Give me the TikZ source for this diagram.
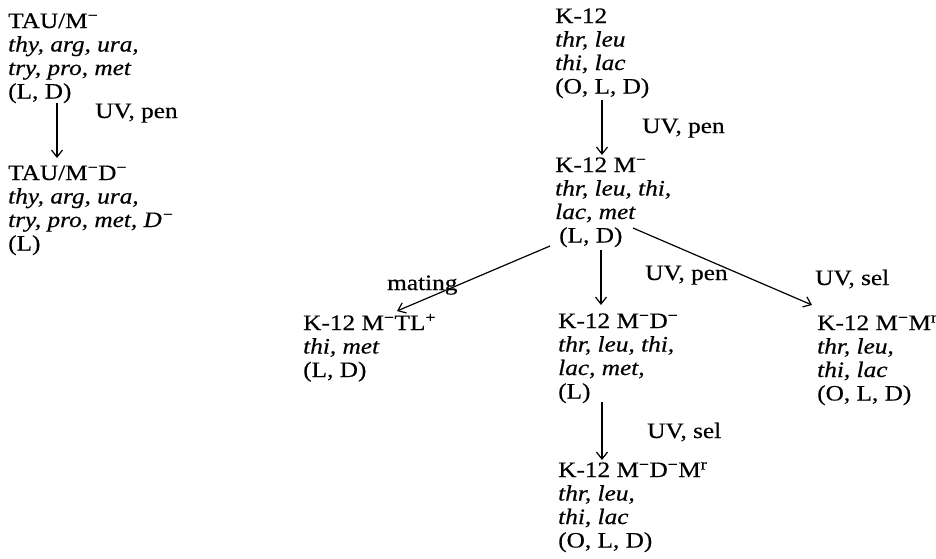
\documentclass[tikz,border=0pt]{standalone}
\usepackage{fontspec}
\setmainfont{Liberation Serif}[FakeStretch=1.15,FakeBold=0.4]
\usetikzlibrary{arrows.meta,calc}
\newcommand\gi[1]{{\itshape #1}}
\newcommand\sm{\textsuperscript{−}}
\newcommand\spl{\textsuperscript{+}}
\newcommand\sr{\textsuperscript{r}}
\newcommand\stack[1]{\vtop{\baselineskip=23.5pt\lineskiplimit=-30pt\lineskip=0pt\halign{##\hfil\cr#1\crcr}}}
\begin{document}
\begin{tikzpicture}[x=1pt,y=-1pt,
  strain/.style={anchor=base west, inner sep=0pt, font=\fontsize{22}{23.5}\selectfont},
  lbl/.style={anchor=base west, inner sep=0pt, font=\fontsize{22}{23.5}\selectfont},
  arr/.style={-{Straight Barb[length=7pt,width=11pt]}, line width=1.2pt}]
\useasboundingbox (0,0) rectangle (936,558);
% strains
\node[strain] (tau1) at (8,28) {\stack{TAU/M\sm\cr\gi{thy, arg, ura,}\cr\gi{try, pro, met}\cr(L, D)}};
\node[strain] (tau2) at (8,180) {\stack{TAU/M\sm D\sm\cr\gi{thy, arg, ura,}\cr\gi{try, pro, met, D\sm}\cr(L)}};
\node[strain] (k12) at (555,23) {\stack{K-12\cr\gi{thr, leu}\cr\gi{thi, lac}\cr(O, L, D)}};
\node[strain] (k12m) at (555,172) {\stack{K-12 M\sm\cr\gi{thr, leu, thi,}\cr\gi{lac, met}\cr\hspace{4pt}(L, D)}};
\node[strain] (mtl) at (303,330) {\stack{K-12 M\sm TL\spl\cr\gi{thi, met}\cr(L, D)}};
\node[strain] (md) at (558,328) {\stack{K-12 M\sm D\sm\cr\gi{thr, leu, thi,}\cr\gi{lac, met,}\cr(L)}};
\node[strain] (mm) at (817,330) {\stack{K-12 M\sm M\sr\cr\gi{thr, leu,}\cr\gi{thi, lac}\cr(O, L, D)}};
\node[strain] (mdm) at (558,477) {\stack{K-12 M\sm D\sm M\sr\cr\gi{thr, leu,}\cr\gi{thi, lac}\cr(O, L, D)}};
% labels
\node[lbl] (l1) at (95,118) {UV, pen};
\node[lbl] (l2) at (642,133) {UV, pen};
\node[lbl] (l3) at (387,290) {mating};
\node[lbl] (l4) at (645,280) {UV, pen};
\node[lbl] (l5) at (815,285) {UV, sel};
\node[lbl] (l6) at (647,438) {UV, sel};
% connectors
\draw[arr] ([xshift=49pt,yshift=-75pt]tau1.base west) -- ([xshift=49pt,yshift=22pt]tau2.base west);
\draw[arr] ([xshift=47pt,yshift=-77pt]k12.base west) -- ([xshift=47pt,yshift=17pt]k12m.base west);
\draw[arr] ([xshift=46pt,yshift=-78pt]k12m.base west) -- ([xshift=43pt,yshift=23pt]md.base west);
\draw[arr] ([xshift=44pt,yshift=-74pt]md.base west) -- ([xshift=44pt,yshift=17pt]mdm.base west);
\draw[arr] ([xshift=-5pt,yshift=-74pt]k12m.base west) -- ([xshift=94pt,yshift=19pt]mtl.base west);
\draw[arr] ([xshift=78pt,yshift=-56pt]k12m.base west) -- ([xshift=-5pt,yshift=25pt]mm.base west);
\end{tikzpicture}
\end{document}
